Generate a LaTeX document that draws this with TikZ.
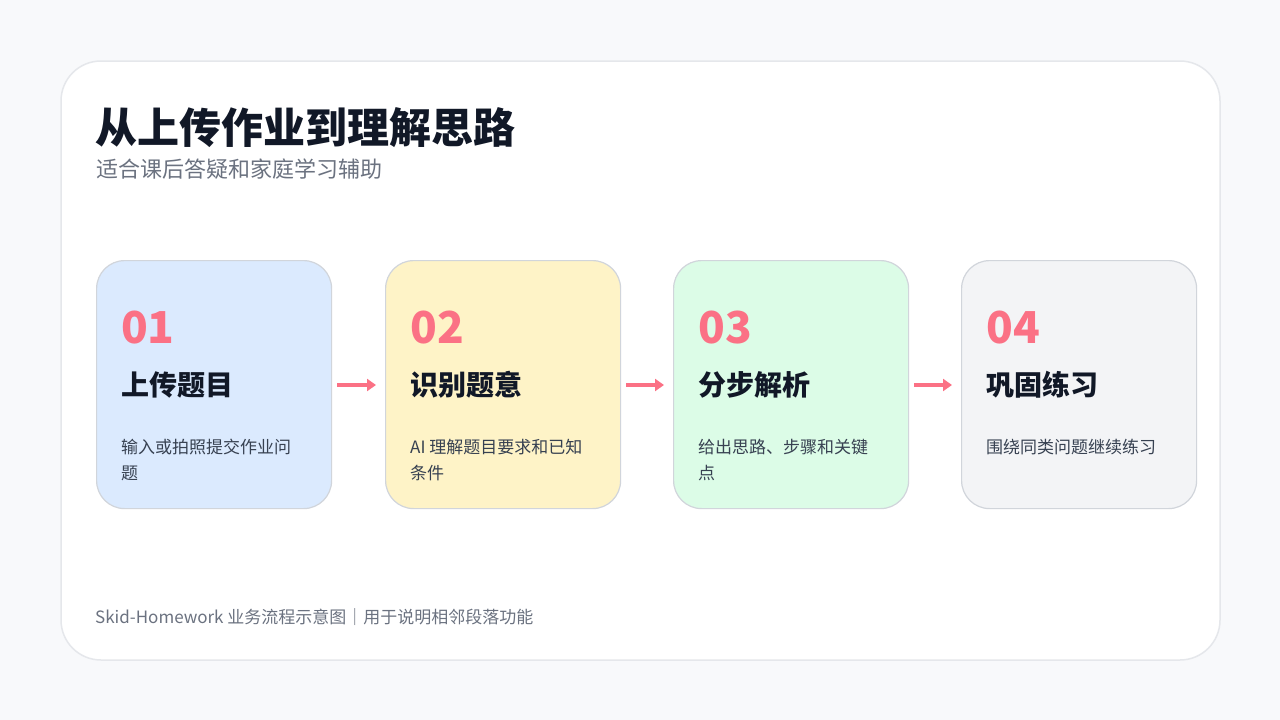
\documentclass[tikz,border=0pt]{standalone}
\usepackage{fontspec}
\setmainfont{Noto Sans CJK SC}
\usetikzlibrary{arrows.meta}
\definecolor{bg}{HTML}{F8F9FB}
\definecolor{cardline}{HTML}{E5E7EB}
\definecolor{boxline}{HTML}{D1D5DB}
\definecolor{ink}{HTML}{111827}
\definecolor{sub}{HTML}{6B7280}
\definecolor{desc}{HTML}{374151}
\definecolor{pink}{HTML}{FB7185}
\definecolor{c1}{HTML}{DBEAFE}
\definecolor{c2}{HTML}{FEF3C7}
\definecolor{c3}{HTML}{DCFCE7}
\definecolor{c4}{HTML}{F3F4F6}
\tikzset{
 stepbox/.style={draw=boxline,line width=1.2pt,rounded corners=28pt,minimum width=235pt,minimum height=248pt,anchor=north west,inner sep=0pt},
 num/.style={anchor=west,text=pink,font=\fontsize{44}{48}\selectfont\bfseries,inner sep=0pt},
 head/.style={anchor=west,text=ink,font=\fontsize{28}{32}\selectfont\bfseries,inner sep=0pt},
 dsc/.style={anchor=north west,text=desc,font=\fontsize{17}{26}\selectfont,align=left,inner sep=0pt},
 flow/.style={draw=pink,line width=3.5pt,-{Triangle[length=9pt,width=12pt]}}
}
\begin{document}
\begin{tikzpicture}[x=1pt,y=-1pt]
\useasboundingbox (0,0) rectangle (1280,720);
\fill[bg] (0,0) rectangle (1280,720);
\draw[cardline,fill=white,line width=1.5pt,rounded corners=40pt] (61,61) rectangle (1220,660);
\node[anchor=west,text=ink,font=\fontsize{42}{46}\selectfont\bfseries,inner sep=0pt] (title) at (95,128) {从上传作业到理解思路};
\node[anchor=west,text=sub,font=\fontsize{22}{26}\selectfont,inner sep=0pt] (subt) at (96,169) {适合课后答疑和家庭学习辅助};
\foreach \i/\x/\c/\n/\h/\d in {1/96/c1/01/上传题目/{输入或拍照提交作业问\\题},2/385/c2/02/识别题意/{AI 理解题目要求和已知\\条件},3/673/c3/03/分步解析/{给出思路、步骤和关键\\点},4/961/c4/04/巩固练习/{围绕同类问题继续练习}}{
 \node[stepbox,fill=\c] (b\i) at (\x,260) {};
 \node[num] (n\i) at (\x+25,328) {\n};
 \node[head] (h\i) at (\x+25,385) {\h};
 \node[dsc] (d\i) at (\x+25,439) {\d};
}
\foreach \a/\b in {1/2,2/3,3/4}{
 \coordinate (s\a) at ([xshift=5pt]b\a.east|-h\a);
 \coordinate (e\a) at ([xshift=-9pt]b\b.west|-h\a);
 \draw[flow] (s\a) -- (e\a);
}
\node[anchor=west,text=sub,font=\fontsize{17}{20}\selectfont,inner sep=0pt] (foot) at (95,617) {Skid-Homework 业务流程示意图｜用于说明相邻段落功能};
\end{tikzpicture}
\end{document}
